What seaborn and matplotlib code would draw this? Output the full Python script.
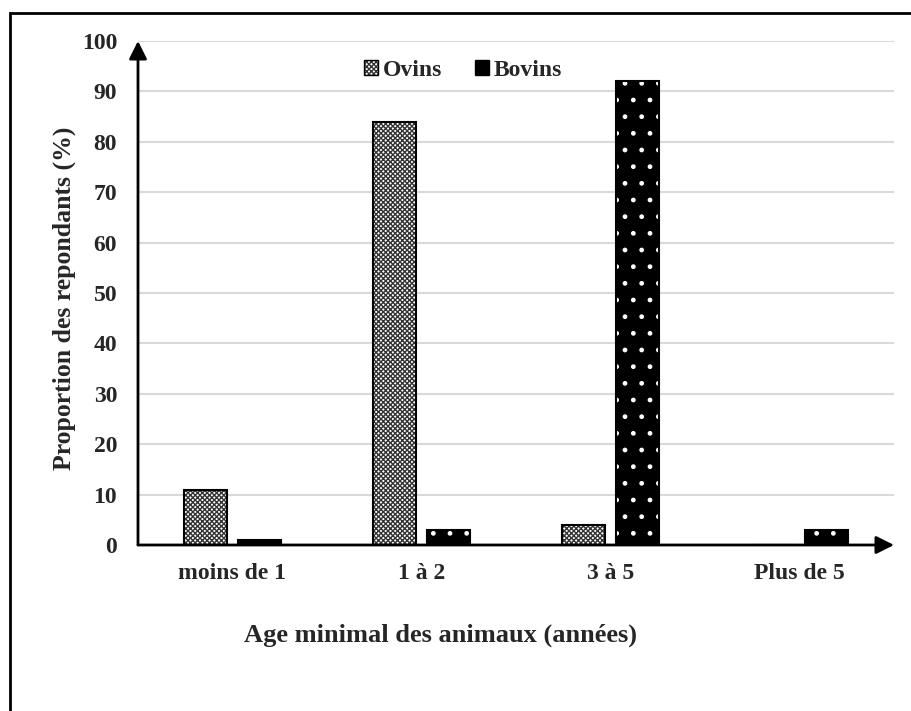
import pandas as pd
import numpy as np
import matplotlib
matplotlib.use("Agg")
import matplotlib.pyplot as plt
import seaborn as sns
from matplotlib.patches import Patch, Rectangle

# data
categories = ["moins de 1", "1 à 2", "3 à 5", "Plus de 5"]
ovins = [11, 84, 4, 0]
bovins = [1, 3, 92, 3]
series = ["Ovins", "Bovins"]

df = pd.DataFrame({
    "age": categories * 2,
    "espece": ["Ovins"] * 4 + ["Bovins"] * 4,
    "valeur": ovins + bovins,
})

sns.set_style("white")
plt.rcParams["font.family"] = ["Liberation Serif", "DejaVu Serif"]
plt.rcParams["font.weight"] = "bold"


def hatch_color(patch, color):
    # matplotlib >= 3.10 has set_hatchcolor, older ones tie it to the edge colour
    try:
        patch.set_hatchcolor(color)
    except AttributeError:
        patch._hatch_color = matplotlib.colors.to_rgba(color)


fig = plt.figure(figsize=(9.12, 7.11), dpi=100)
ax = fig.add_axes([138 / 912, 166 / 711, 756 / 912, 504 / 711])

sns.barplot(data=df, x="age", y="valeur", hue="espece", order=categories,
            hue_order=series, width=0.57, gap=0.2, ax=ax, legend=False,
            edgecolor="black", linewidth=1.5, errorbar=None)

# hatches: checker for Ovins, white dots on black for Bovins
for i, bar in enumerate(ax.patches):
    if i < 4:
        bar.set_facecolor("white")
        bar.set_hatch("xxxxxxx")
        hatch_color(bar, "#333333")
    else:
        bar.set_facecolor("black")
        bar.set_hatch(".")
        hatch_color(bar, "white")

ax.set_xlim(-0.5, 3.5)
ax.set_ylim(0, 100)
ax.set_yticks(range(0, 101, 10))
ax.yaxis.grid(True, color="#d9d9d9", linewidth=1.5)
ax.set_axisbelow(True)
for s in ax.spines.values():
    s.set_visible(False)
ax.tick_params(axis="both", length=0, labelsize=17)
ax.tick_params(axis="x", pad=13)
ax.tick_params(axis="y", pad=15)
for lab in ax.get_xticklabels() + ax.get_yticklabels():
    lab.set_fontweight("bold")

# axis arrows
arrow = dict(arrowstyle="-|>", color="black", lw=2, mutation_scale=27,
             shrinkA=0, shrinkB=0)
ax.annotate("", xy=(0, 1), xytext=(0, 0), xycoords="axes fraction",
            arrowprops=arrow, annotation_clip=False)
ax.annotate("", xy=(1, 0), xytext=(0, 0), xycoords="axes fraction",
            arrowprops=arrow, annotation_clip=False)

ax.set_xlabel("Age minimal des animaux (années)", fontsize=19, fontweight="bold", va="center")
ax.set_ylabel("Proportion des repondants (%)", fontsize=18.5, fontweight="bold", va="center")
ax.xaxis.set_label_coords(0.40, -0.179)
ax.yaxis.set_label_coords(-0.097, 0.49)

ov_handle = Patch(facecolor="white", edgecolor="black", hatch="xxxxxxx", label="Ovins")
hatch_color(ov_handle, "#333333")
handles = [ov_handle, Patch(facecolor="black", edgecolor="black", label="Bovins")]
ax.legend(handles=handles, loc="center", bbox_to_anchor=(0.43, 0.942), ncol=2,
          frameon=False, handlelength=0.6, handleheight=0.6, handletextpad=0.2,
          columnspacing=1.4, prop={"size": 17, "weight": "bold"})

# outer frame (only top and left edges fall inside the image)
fig.patches.append(Rectangle((10 / 912, -0.2), 1.2, (711 - 13) / 711 + 0.2,
                             transform=fig.transFigure, fill=False,
                             edgecolor="black", linewidth=2))

fig.savefig("out.png", dpi=100)
